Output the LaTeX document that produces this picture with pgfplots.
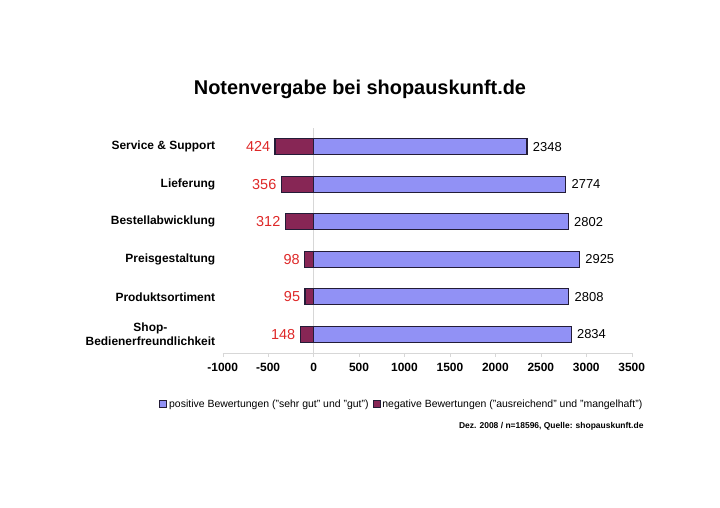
\documentclass[border=0pt]{standalone}
\usepackage{pgfplots}
\pgfplotsset{compat=1.18}
\usepackage{fontspec}
\setmainfont{Liberation Sans}

\definecolor{posfill}{RGB}{145,145,245}
\definecolor{negfill}{RGB}{135,38,85}
\definecolor{bardraw}{RGB}{35,28,55}
\definecolor{labred}{RGB}{222,40,40}
\definecolor{axisgray}{RGB}{215,215,215}

\begin{document}
\begin{tikzpicture}
\path[use as bounding box] (0,0) rectangle (720bp,508bp);

\node[font=\bfseries\fontsize{20}{24}\selectfont] at (360bp,419bp) {Notenvergabe bei shopauskunft.de};

\begin{axis}[
at={(222.7bp,155bp)}, anchor=south west,
scale only axis,
width=409bp, height=225bp,
xmin=-1000, xmax=3500,
ymin=-0.5, ymax=5.5,
xtick={-1000,-500,0,500,1000,1500,2000,2500,3000,3500},
ytick={0,1,2,3,4,5},
yticklabels={{Shop-\\Bedienerfreundlichkeit},Produktsortiment,Preisgestaltung,Bestellabwicklung,Lieferung,{Service \& Support}},
axis lines*=left,
x axis line style={axisgray},
y axis line style={draw=none},
xtick style={axisgray},
ytick style={draw=none},
tick align=outside,
major tick length=4bp,
extra x ticks={0},
extra x tick labels={},
extra x tick style={grid=major, major grid style={axisgray, line width=0.5pt}},
xticklabel style={font=\bfseries\fontsize{12}{14}\selectfont, yshift=-3bp},
yticklabel style={font=\bfseries\fontsize{12}{14}\selectfont, align=center},
/pgf/number format/assume math mode=true,
/pgf/number format/1000 sep={},
scaled x ticks=false,
xticklabel={\pgfmathprintnumber[fixed,1000 sep={}]{\tick}},
bar width=16bp,
legend style={at={(0.438,-0.227)}, anchor=center, draw=none, fill=none,
  font=\fontsize{10.5}{12}\selectfont, legend columns=2,
  /tikz/every even column/.append style={column sep=2bp}},
legend image code/.code={\draw[#1, line width=0.8pt] (0bp,-3.5bp) rectangle (7bp,3.5bp);},
]
\addplot[xbar, bar shift=0pt, fill=posfill, draw=bardraw, line width=1.2pt,
  nodes near coords, point meta=explicit,
  every node near coord/.append style={anchor=west, font=\fontsize{13}{15}\selectfont, text=black, xshift=2bp}]
coordinates {
(2834,0) [2834]
(2808,1) [2808]
(2925,2) [2925]
(2802,3) [2802]
(2774,4) [2774]
(2348,5) [2348]
};
\addlegendentry{positive Bewertungen ("sehr gut" und "gut")}
\addplot[xbar, bar shift=0pt, fill=negfill, draw=bardraw, line width=1.2pt,
  nodes near coords, point meta=explicit,
  every node near coord/.append style={anchor=east, font=\fontsize{14.5}{16}\selectfont, text=labred, xshift=-1bp}]
coordinates {
(-148,0) [148]
(-95,1) [95]
(-98,2) [98]
(-312,3) [312]
(-356,4) [356]
(-424,5) [424]
};
\addlegendentry{negative Bewertungen ("ausreichend" und "mangelhaft")}
\end{axis}

\node[anchor=east, font=\bfseries\fontsize{8.5}{10}\selectfont] at (647bp,82bp) {Dez. 2008 / n=18596, Quelle: shopauskunft.de};
\end{tikzpicture}
\end{document}
